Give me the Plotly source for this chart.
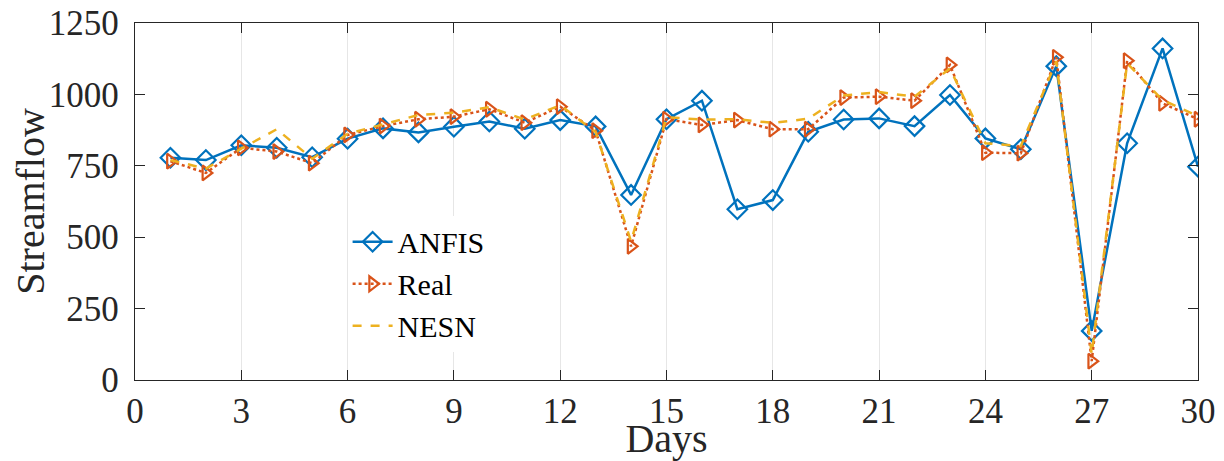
import plotly.graph_objects as go

days = list(range(1, 31))
anfis = [778, 770, 822, 813, 780, 845, 881, 867, 887, 905,
         880, 910, 888, 648, 913, 978, 598, 630, 869, 912,
         916, 889, 998, 846, 808, 1099, 172, 829, 1161, 747]
real = [766, 725, 813, 800, 759, 858, 889, 913, 922, 948,
        901, 957, 873, 468, 913, 893, 910, 878, 878, 989,
        992, 978, 1103, 796, 794, 1130, 66, 1118, 969, 913]
nesn = [770, 740, 810, 878, 775, 862, 895, 928, 936, 955,
        912, 962, 868, 485, 920, 912, 913, 900, 915, 996,
        1008, 992, 1091, 829, 819, 1116, 90, 1109, 980, 924]

x_ticks = list(range(0, 31, 3))
y_ticks = [0, 250, 500, 750, 1000, 1250]

blue, orange, yellow = "#0072BD", "#D95319", "#EDB120"
serif = "Liberation Serif"
ink = "#262626"

fig = go.Figure()
fig.add_trace(go.Scatter(
    x=days, y=anfis, name="ANFIS", mode="lines+markers",
    line=dict(color=blue, width=2.5),
    marker=dict(symbol="diamond-open", size=15, color=blue, line=dict(width=2.2))))
fig.add_trace(go.Scatter(
    x=days, y=real, name="Real", mode="lines+markers",
    line=dict(color=orange, width=2.5, dash="dot"),
    marker=dict(symbol="triangle-right-open", size=13, color=orange, line=dict(width=2.2))))
fig.add_trace(go.Scatter(
    x=days, y=nesn, name="NESN", mode="lines",
    line=dict(color=yellow, width=2.5, dash="dash")))

# page body adds an 8px margin; size the figure to fit the 1224x461 window
fig.update_layout(
    width=1216, height=453,
    margin=dict(l=127, r=26, t=15, b=81),
    plot_bgcolor="white", paper_bgcolor="white",
    font=dict(family=serif, color=ink, size=35),
    showlegend=True,
    legend=dict(x=0.2, y=0.46, xanchor="left", yanchor="top",
                bgcolor="white", borderwidth=0,
                font=dict(size=30, family=serif, color="black"),
                tracegroupgap=0, itemwidth=40),
    xaxis=dict(range=[0, 30], tickvals=x_ticks, ticktext=[str(t) for t in x_ticks],
               showgrid=True, gridcolor="#e6e6e6", gridwidth=1,
               ticks="inside", ticklen=10, tickcolor=ink, tickwidth=1.2,
               showline=True, linecolor=ink, linewidth=1.4, mirror="ticks",
               zeroline=False, automargin=False, ticklabeloverflow="allow",
               tickfont=dict(size=35, family=serif, color=ink),
               title=dict(text="Days", font=dict(size=40, family=serif, color=ink),
                          standoff=6)),
    yaxis=dict(range=[0, 1250], tickvals=y_ticks, ticktext=[str(t) for t in y_ticks],
               showgrid=False,
               ticks="inside", ticklen=10, tickcolor=ink, tickwidth=1.2,
               showline=True, linecolor=ink, linewidth=1.4, mirror="ticks",
               zeroline=False, automargin=False, ticklabelstandoff=8,
               ticklabeloverflow="allow",
               tickfont=dict(size=35, family=serif, color=ink),
               title=dict(text="Streamflow", font=dict(size=40, family=serif, color=ink),
                          standoff=10)),
)

fig.write_html("out.html")
